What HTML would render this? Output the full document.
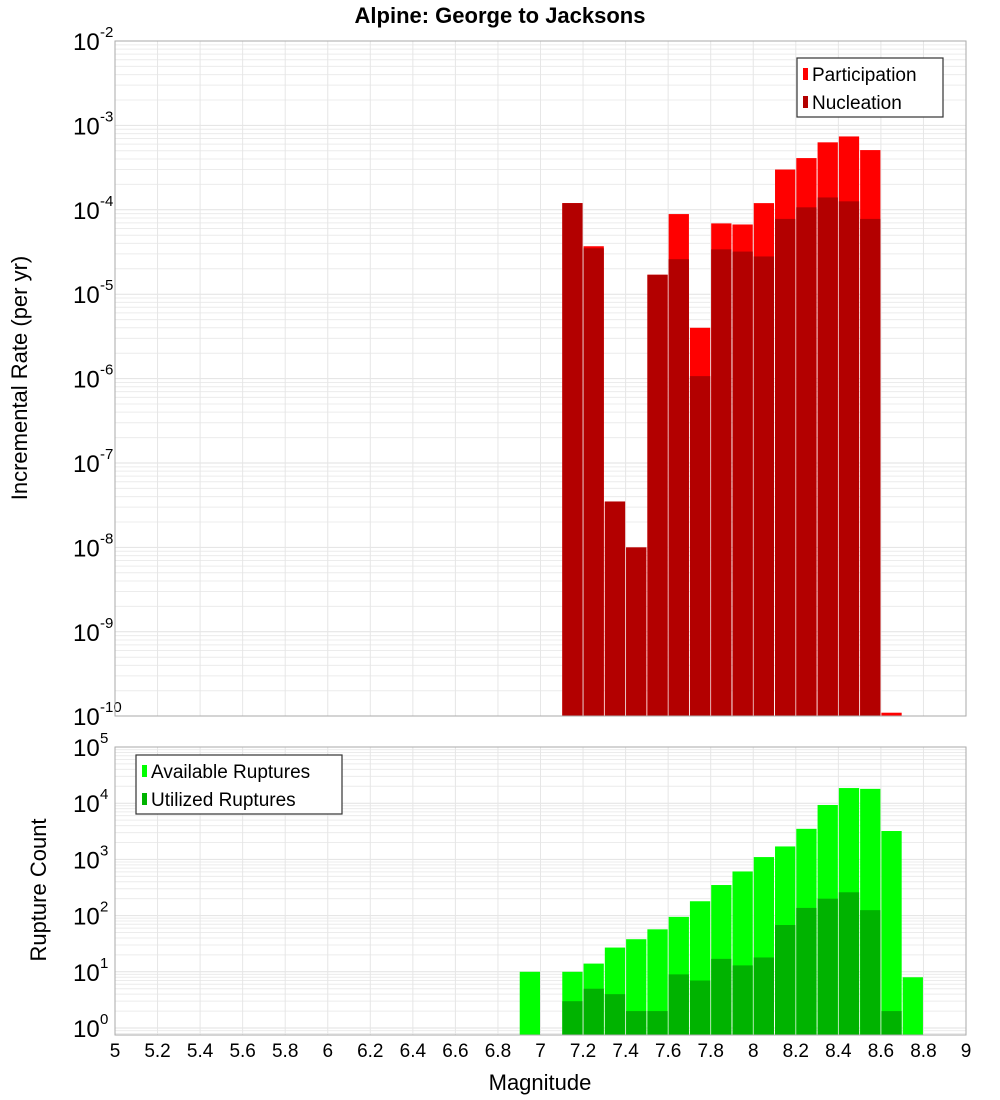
<!DOCTYPE html>
<html><head><meta charset="utf-8"><style>
body{margin:0;background:#fff;}
svg{display:block;font-family:"Liberation Sans","DejaVu Sans",sans-serif;}
</style></head><body>
<svg id="chart" width="1000" height="1100" viewBox="0 0 1000 1100" xmlns="http://www.w3.org/2000/svg">
<text x="500" y="23" text-anchor="middle" font-size="22" font-weight="bold">Alpine: George to Jacksons</text>
<g id="topPanel"></g>
<g id="botPanel"></g>
<text transform="translate(27,378) rotate(-90)" text-anchor="middle" font-size="22">Incremental Rate (per yr)</text>
<text transform="translate(46,890) rotate(-90)" text-anchor="middle" font-size="22">Rupture Count</text>
<text x="540" y="1090" text-anchor="middle" font-size="22">Magnitude</text>
</svg>
<script>
const binCenters=[7.15,7.25,7.35,7.45,7.55,7.65,7.75,7.85,7.95,8.05,8.15,8.25,8.35,8.45,8.55,8.65];
const participation=[1.2e-4,3.7e-5,3.5e-8,1.0e-8,1.7e-5,8.9e-5,4.0e-6,6.9e-5,6.7e-5,1.2e-4,3.0e-4,4.1e-4,6.3e-4,7.4e-4,5.1e-4,1.1e-10];
const nucleation=[1.2e-4,3.5e-5,3.5e-8,1.0e-8,1.7e-5,2.6e-5,1.07e-6,3.4e-5,3.2e-5,2.8e-5,7.8e-5,1.07e-4,1.4e-4,1.26e-4,7.8e-5,0];
const countCenters=[6.95,7.15,7.25,7.35,7.45,7.55,7.65,7.75,7.85,7.95,8.05,8.15,8.25,8.35,8.45,8.55,8.65,8.75];
const available=[10,10,14,27,38,57,95,180,350,610,1100,1700,3500,9300,18600,18000,3200,8];
const utilized=[0,3,5,4,2,2,9,7,17,13,18,68,137,200,260,125,2,0];
const xTicks=[5,5.2,5.4,5.6,5.8,6,6.2,6.4,6.6,6.8,7,7.2,7.4,7.6,7.8,8,8.2,8.4,8.6,8.8,9];
const rateExp=[-2,-3,-4,-5,-6,-7,-8,-9,-10];
const countExp=[5,4,3,2,1,0];

const NS="http://www.w3.org/2000/svg";
const X0=115,X1=966;
const xs=m=>X0+(m-5)/4*(X1-X0);
const bw=(X1-X0)/40;
function mk(p,tag,a){const e=document.createElementNS(NS,tag);for(const k in a)e.setAttribute(k,a[k]);p.appendChild(e);return e;}
const yTop=v=>41+(-2-Math.log10(v))*84.4;
const yBot=v=>747+(5-Math.log10(v))*56.2;

function panel(g,yf,ptop,pbottom,exps,minExp,maxExp){
  const grid=mk(g,'g',{});
  
  
  for(let e=minExp;e<maxExp;e++){for(let k=1;k<10;k++){const yy=yf(k*Math.pow(10,e));if(yy<ptop-0.5||yy>pbottom)continue;
    mk(grid,'line',{x1:X0,x2:X1,y1:yy,y2:yy,stroke:k==1?'#e2e2e2':'#ececec','stroke-width':1});}}
  xTicks.forEach(t=>{mk(grid,'line',{x1:xs(t),x2:xs(t),y1:ptop,y2:pbottom,stroke:'#e6e6e6','stroke-width':1});});
  exps.forEach(e=>{const yy=yf(Math.pow(10,e));
    const t=mk(g,'text',{x:73,y:yy+9,'font-size':24});
    
    
    t.textContent='10';
    const s=mk(g,'text',{x:100,y:yy-4,'font-size':15});
    
    
    s.textContent=String(e);});
}
const topG=document.getElementById('topPanel');
panel(topG,yTop,41,716,rateExp,-10,-2);
binCenters.forEach((m,i)=>{
  if(participation[i]>0){const r=mk(topG,'rect',{x:xs(m)-bw/2+0.5,y:yTop(participation[i]),width:bw-1,height:716-yTop(participation[i]),fill:'#ff0000'});
    
    }
  if(nucleation[i]>0){const r=mk(topG,'rect',{x:xs(m)-bw/2+0.5,y:yTop(nucleation[i]),width:bw-1,height:716-yTop(nucleation[i]),fill:'#b30000'});
    
    }
});
mk(topG,'rect',{x:X0,y:41,width:X1-X0,height:675,fill:'none',stroke:'#aaa','stroke-width':1});
const botG=document.getElementById('botPanel');
panel(botG,yBot,747,1035,countExp,-1,5);
countCenters.forEach((m,i)=>{
  if(available[i]>0){const r=mk(botG,'rect',{x:xs(m)-bw/2+0.5,y:yBot(available[i]),width:bw-1,height:1035-yBot(available[i]),fill:'#00ff00'});
    
    }
  if(utilized[i]>0){const r=mk(botG,'rect',{x:xs(m)-bw/2+0.5,y:yBot(utilized[i]),width:bw-1,height:1035-yBot(utilized[i]),fill:'#00b300'});
    
    }
});
mk(botG,'rect',{x:X0,y:747,width:X1-X0,height:288,fill:'none',stroke:'#aaa','stroke-width':1});
const svgEl=document.getElementById('chart');
xTicks.forEach(t=>{const l=mk(svgEl,'text',{x:xs(t),y:1057,'text-anchor':'middle','font-size':19});
  
  
  l.textContent=String(t);});
function legend(x0,y0,w,items){
  const g=mk(svgEl,'g',{});
  
  
  mk(g,'rect',{x:x0,y:y0,width:w,height:59,fill:'#fff',stroke:'#333','stroke-width':1.2});
  items.forEach((it,i)=>{const yy=y0+16+i*28;
    mk(g,'rect',{x:x0+6,y:yy-6,width:5,height:12,fill:it[1]});
    const t=mk(g,'text',{x:x0+15,y:yy+7,'font-size':19});
    
    
    t.textContent=it[0];});
}
legend(797,58,146,[['Participation','#ff0000'],['Nucleation','#b30000']]);
legend(136,755,206,[['Available Ruptures','#00ff00'],['Utilized Ruptures','#00b300']]);
</script>
</body></html>
